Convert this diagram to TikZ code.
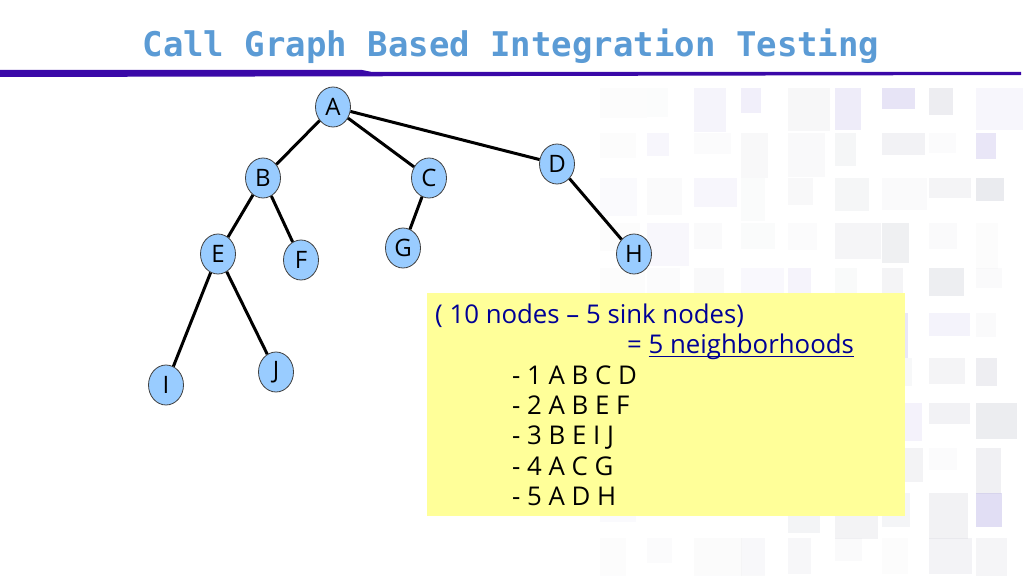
\documentclass[tikz,border=0pt]{standalone}
\usepackage{fontspec}
\setmainfont{Open Sans}
\newfontfamily\titlefont{DejaVu Sans Mono}
\usetikzlibrary{positioning, shapes.geometric}

\definecolor{titleblue}{RGB}{91,155,213}
\definecolor{barpurple}{RGB}{58,8,168}
\definecolor{nodeblue}{RGB}{153,204,255}
\definecolor{notebg}{RGB}{255,255,153}
\definecolor{noteblue}{RGB}{0,0,150}
\definecolor{sqgrey}{RGB}{200,202,212}
\definecolor{sqlav}{RGB}{170,160,225}

\newcommand{\ulbase}[1]{\setbox0\hbox{#1}\rlap{\rule[-4pt]{\wd0}{1.3pt}}#1}

\begin{document}
\begin{tikzpicture}[
    x=1pt, y=-1pt,
    vertex/.style={ellipse, draw=black!75, line width=0.8pt, fill=nodeblue,
      minimum width=35pt, minimum height=40pt, inner sep=0pt,
      font=\fontsize{24}{24}\selectfont},
    edge/.style={line width=3pt},
    noteline/.style={anchor=base west, inner sep=0pt,
      font=\fontsize{25.8}{26}\selectfont}
  ]
  \useasboundingbox (0,0) rectangle (1024,575);
  \fill[white] (0,0) rectangle (1024,575);

  % ---- backdrop ----
  \pgfmathsetseed{11}
  \foreach \i in {0,...,8}{
    \foreach \j in {0,...,10}{
      \pgfmathsetmacro{\op}{0.05+0.04*\i*rnd}
      \pgfmathsetmacro{\sw}{20+28*rnd}
      \pgfmathsetmacro{\sh}{20+28*rnd}
      \pgfmathtruncatemacro{\hue}{rnd<0.25 ? 1 : 0}
      \ifnum\hue=1 \def\sqcol{sqlav}\else\def\sqcol{sqgrey}\fi
      \fill[\sqcol, opacity=\op] (600+47*\i, 88+45*\j) rectangle ++(\sw,\sh);
    }
  }

  % ---- title ----
  \node[font=\titlefont\bfseries\fontsize{34}{34}\selectfont, text=titleblue,
    anchor=base, inner sep=0pt] (title) at (511,57)
    {Call Graph Based Integration Testing};
  \fill[barpurple] (0,70) -- (362,70) -- (372,72) -- (1021,72)
    -- (1021,75) -- (0,77) -- cycle;

  % ---- call graph ----
  \node[vertex] (A) at (333,107) {A};
  \node[vertex] (B) at (263,178) {B};
  \node[vertex] (C) at (429,178) {C};
  \node[vertex] (D) at (557,164) {D};
  \node[vertex] (E) at (218,254) {E};
  \node[vertex] (F) at (301,260) {F};
  \node[vertex] (G) at (403,248) {G};
  \node[vertex] (H) at (634,254) {H};
  \node[vertex] (I) at (166,385) {I};
  \node[vertex] (J) at (276,372) {J};

  \draw[edge] (A) -- (B);
  \draw[edge] (A) -- (C);
  \draw[edge] (A) -- (D);
  \draw[edge] (B) -- (E);
  \draw[edge] (B) -- (F);
  \draw[edge] (C) -- (G);
  \draw[edge] (D) -- (H);
  \draw[edge] (E) -- (I);
  \draw[edge] (E) -- (J);

  % ---- neighborhoods ----
  \fill[notebg] (427,293) rectangle (905,516);
  \node[noteline, text=noteblue] (n0) at (435,323) {( 10 nodes – 5 sink nodes)};
  \node[noteline, text=noteblue] (n1) at (627,353) {= \ulbase{5 neighborhoods}};
  \node[noteline] (h1) at (512,384) {- 1 A B C D};
  \node[noteline] (h2) at (512,414) {- 2 A B E F};
  \node[noteline] (h3) at (512,444) {- 3 B E I J};
  \node[noteline] (h4) at (512,475) {- 4 A C G};
  \node[noteline] (h5) at (512,505) {- 5 A D H};
\end{tikzpicture}
\end{document}
